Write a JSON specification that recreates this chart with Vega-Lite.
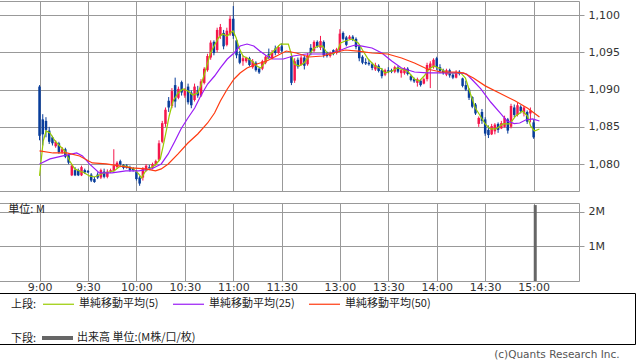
{
"$schema": "https://vega.github.io/schema/vega-lite/v6.json",
"padding": {"left": -2, "top": 0, "right": 0, "bottom": 0},
"background": "white",
"spacing": -1,
"title": {"text": "(c)Quants Research Inc.", "orient": "bottom", "anchor": "end", "font": "DejaVu Sans", "fontSize": 10.5, "fontWeight": "normal", "color": "#555555", "offset": 5, "dx": -16},
"config": {
  "view": {"stroke": "#999999", "strokeWidth": 1},
  "axis": {"labelFont": "DejaVu Sans", "labelFontSize": 11, "labelColor": "#333333", "gridColor": "#999999", "gridWidth": 1, "gridOpacity": 1, "tickColor": "#999999", "domain": false}
},
"resolve": {"scale": {"stroke": "shared", "fill": "shared"}, "legend": {"stroke": "shared", "fill": "shared"}},
"datasets": {
"candles": [
{"t":0,"o":1090.4,"h":1090.6,"l":1083.2,"c":1083.8},
{"t":2,"o":1086,"h":1086.7,"l":1082.5,"c":1084},
{"t":4,"o":1085.8,"h":1086.3,"l":1083.6,"c":1084.6},
{"t":6,"o":1084.5,"h":1085,"l":1082.7,"c":1083},
{"t":8,"o":1083.6,"h":1083.8,"l":1082.5,"c":1082.8},
{"t":10,"o":1082.4,"h":1083.2,"l":1082.2,"c":1083},
{"t":12,"o":1082.8,"h":1083,"l":1081.4,"c":1081.6},
{"t":14,"o":1081.6,"h":1082.3,"l":1081.4,"c":1082},
{"t":16,"o":1082,"h":1082.2,"l":1080.8,"c":1081},
{"t":18,"o":1081.2,"h":1081.4,"l":1080,"c":1080.2},
{"t":20,"o":1078.5,"h":1080,"l":1078.4,"c":1079.8},
{"t":22,"o":1079.2,"h":1079.6,"l":1078.4,"c":1078.5},
{"t":24,"o":1079.2,"h":1079.4,"l":1078.4,"c":1078.5},
{"t":26,"o":1078.5,"h":1079.8,"l":1078.4,"c":1079.6},
{"t":28,"o":1079.2,"h":1079.4,"l":1078.7,"c":1078.9},
{"t":30,"o":1079.1,"h":1079.2,"l":1078.8,"c":1078.9},
{"t":32,"o":1078.6,"h":1078.8,"l":1077.6,"c":1077.8},
{"t":34,"o":1078,"h":1078.3,"l":1077.5,"c":1077.6},
{"t":36,"o":1078.6,"h":1078.9,"l":1078,"c":1078.2},
{"t":38,"o":1078.2,"h":1079.4,"l":1078,"c":1079.2},
{"t":40,"o":1079,"h":1079.4,"l":1078.1,"c":1078.3},
{"t":42,"o":1078.3,"h":1079.3,"l":1078.1,"c":1079},
{"t":44,"o":1079,"h":1079.4,"l":1078.8,"c":1079.2},
{"t":46,"o":1079.1,"h":1082,"l":1079,"c":1079.8},
{"t":48,"o":1079.6,"h":1080.4,"l":1079.4,"c":1080.2},
{"t":50,"o":1080.4,"h":1080.6,"l":1079.8,"c":1080},
{"t":52,"o":1079.9,"h":1080,"l":1079.3,"c":1079.5},
{"t":54,"o":1079.8,"h":1080,"l":1079.4,"c":1079.5},
{"t":56,"o":1079.5,"h":1079.8,"l":1079,"c":1079.2},
{"t":58,"o":1079.4,"h":1079.6,"l":1079,"c":1079.2},
{"t":60,"o":1079,"h":1079.2,"l":1077.8,"c":1078},
{"t":62,"o":1078.2,"h":1078.4,"l":1077.1,"c":1077.4},
{"t":64,"o":1078.2,"h":1079.6,"l":1077.8,"c":1079.4},
{"t":66,"o":1079.2,"h":1080,"l":1079,"c":1079.8},
{"t":68,"o":1079.6,"h":1079.9,"l":1079.2,"c":1079.5},
{"t":70,"o":1079.5,"h":1080.2,"l":1079.3,"c":1080},
{"t":72,"o":1080,"h":1080.6,"l":1079.8,"c":1080.4},
{"t":74,"o":1080.6,"h":1083.2,"l":1080.4,"c":1082.8},
{"t":76,"o":1083,"h":1085.8,"l":1082.8,"c":1085.5},
{"t":78,"o":1085.4,"h":1087.6,"l":1085,"c":1087.3},
{"t":80,"o":1088.5,"h":1089,"l":1087,"c":1087.6},
{"t":82,"o":1087.8,"h":1090.2,"l":1087.5,"c":1089.8},
{"t":84,"o":1090.6,"h":1091.6,"l":1087.6,"c":1088.4},
{"t":86,"o":1088.9,"h":1090.4,"l":1088.7,"c":1090.1},
{"t":88,"o":1091,"h":1091.2,"l":1089.2,"c":1089.6},
{"t":90,"o":1089.2,"h":1090.2,"l":1088.9,"c":1090},
{"t":92,"o":1090.4,"h":1090.8,"l":1088,"c":1088.3},
{"t":94,"o":1089.6,"h":1089.9,"l":1087.5,"c":1087.9},
{"t":96,"o":1088.6,"h":1090.8,"l":1088.4,"c":1090.4},
{"t":98,"o":1089.9,"h":1090.5,"l":1088.9,"c":1089.2},
{"t":100,"o":1089.2,"h":1091.4,"l":1089,"c":1091.1},
{"t":102,"o":1090.9,"h":1093,"l":1090.7,"c":1092.8},
{"t":104,"o":1092.6,"h":1094.8,"l":1092.4,"c":1094.5},
{"t":106,"o":1094.3,"h":1096.6,"l":1094,"c":1096.3},
{"t":108,"o":1096.4,"h":1096.6,"l":1094.6,"c":1094.9},
{"t":110,"o":1095.3,"h":1098.3,"l":1095,"c":1098},
{"t":112,"o":1097.2,"h":1098.8,"l":1096.8,"c":1098.4},
{"t":114,"o":1097.6,"h":1098,"l":1095.4,"c":1095.8},
{"t":116,"o":1096,"h":1098.3,"l":1095.8,"c":1097.9},
{"t":118,"o":1097.4,"h":1099.9,"l":1097.2,"c":1099.5},
{"t":120,"o":1099.5,"h":1101.2,"l":1096.8,"c":1097.2},
{"t":122,"o":1096.6,"h":1096.8,"l":1094.2,"c":1094.6},
{"t":124,"o":1094.8,"h":1095.2,"l":1093.4,"c":1093.6},
{"t":126,"o":1093.8,"h":1094.6,"l":1093.2,"c":1094.2},
{"t":128,"o":1093.8,"h":1094.4,"l":1093.6,"c":1094.3},
{"t":130,"o":1094.2,"h":1094.4,"l":1093.1,"c":1093.3},
{"t":132,"o":1093,"h":1094.1,"l":1092.8,"c":1093.8},
{"t":134,"o":1093.6,"h":1093.8,"l":1092.4,"c":1092.6},
{"t":136,"o":1092.8,"h":1093,"l":1092.1,"c":1092.3},
{"t":138,"o":1092.8,"h":1094,"l":1092.6,"c":1093.8},
{"t":140,"o":1093.6,"h":1094.6,"l":1093.4,"c":1094.4},
{"t":142,"o":1094.8,"h":1095.5,"l":1094.1,"c":1094.3},
{"t":144,"o":1094.2,"h":1095.3,"l":1094,"c":1095},
{"t":146,"o":1095.5,"h":1095.9,"l":1094.6,"c":1094.9},
{"t":148,"o":1094.9,"h":1095.9,"l":1094.8,"c":1095.7},
{"t":150,"o":1095.8,"h":1096.2,"l":1095,"c":1095.2},
{"t":156,"o":1094.5,"h":1094.8,"l":1090.6,"c":1090.9},
{"t":158,"o":1091.2,"h":1094.2,"l":1090.9,"c":1093.8},
{"t":160,"o":1094,"h":1094.3,"l":1092.8,"c":1093.1},
{"t":162,"o":1093.3,"h":1094.6,"l":1093.2,"c":1094.3},
{"t":164,"o":1094.3,"h":1094.5,"l":1092.7,"c":1093.2},
{"t":166,"o":1093.4,"h":1094.9,"l":1093.2,"c":1094.6},
{"t":168,"o":1095.6,"h":1096.1,"l":1094.6,"c":1094.9},
{"t":170,"o":1095.2,"h":1096.6,"l":1095,"c":1096.4},
{"t":172,"o":1096.4,"h":1096.6,"l":1095.6,"c":1095.8},
{"t":174,"o":1095.6,"h":1097.2,"l":1095.3,"c":1096.5},
{"t":176,"o":1096.4,"h":1096.6,"l":1094.3,"c":1094.6},
{"t":178,"o":1095,"h":1095.1,"l":1094.3,"c":1094.5},
{"t":180,"o":1094.5,"h":1095.1,"l":1094.3,"c":1094.9},
{"t":182,"o":1095.3,"h":1095.4,"l":1094.6,"c":1094.8},
{"t":184,"o":1094.9,"h":1095.6,"l":1094.7,"c":1095.4},
{"t":186,"o":1095.3,"h":1098.1,"l":1095.1,"c":1097.5},
{"t":188,"o":1097.6,"h":1097.8,"l":1096.6,"c":1096.8},
{"t":190,"o":1097,"h":1097.2,"l":1095.8,"c":1096},
{"t":192,"o":1096.8,"h":1097.3,"l":1096.7,"c":1097.1},
{"t":194,"o":1097.1,"h":1097.3,"l":1096.5,"c":1096.7},
{"t":196,"o":1096.8,"h":1097,"l":1095.4,"c":1095.7},
{"t":198,"o":1095.8,"h":1096.1,"l":1093.8,"c":1094.2},
{"t":200,"o":1094.4,"h":1094.6,"l":1093.4,"c":1093.6},
{"t":202,"o":1093.7,"h":1094.2,"l":1093.3,"c":1093.5},
{"t":204,"o":1093.6,"h":1094,"l":1093.2,"c":1093.4},
{"t":206,"o":1093.4,"h":1093.6,"l":1092.6,"c":1092.9},
{"t":208,"o":1092.7,"h":1093.6,"l":1092.5,"c":1093.3},
{"t":210,"o":1093.2,"h":1093.4,"l":1092.3,"c":1092.5},
{"t":212,"o":1092.6,"h":1092.9,"l":1091.5,"c":1091.8},
{"t":214,"o":1092,"h":1092.8,"l":1091.8,"c":1092.6},
{"t":216,"o":1092.6,"h":1093,"l":1092.2,"c":1092.4},
{"t":218,"o":1092.6,"h":1092.8,"l":1092.2,"c":1092.4},
{"t":220,"o":1092.4,"h":1093.2,"l":1092.2,"c":1093},
{"t":222,"o":1093,"h":1093.2,"l":1092.2,"c":1092.4},
{"t":224,"o":1092.2,"h":1092.8,"l":1091.6,"c":1092.6},
{"t":226,"o":1092.2,"h":1093,"l":1092,"c":1092.8},
{"t":228,"o":1092.8,"h":1093,"l":1091.9,"c":1092.1},
{"t":230,"o":1091.8,"h":1092,"l":1091.1,"c":1091.3},
{"t":232,"o":1091.4,"h":1091.6,"l":1090.9,"c":1091.1},
{"t":234,"o":1090.9,"h":1091.6,"l":1090.4,"c":1091.4},
{"t":236,"o":1091.2,"h":1091.4,"l":1090.4,"c":1090.6},
{"t":238,"o":1090.8,"h":1091.6,"l":1090.7,"c":1091.4},
{"t":240,"o":1091.4,"h":1093.6,"l":1091.1,"c":1093.3},
{"t":242,"o":1092.9,"h":1093.8,"l":1090.2,"c":1093.5},
{"t":244,"o":1093,"h":1094.2,"l":1092.8,"c":1094},
{"t":246,"o":1094.2,"h":1094.4,"l":1092.6,"c":1093},
{"t":248,"o":1093,"h":1093.4,"l":1092.2,"c":1092.5},
{"t":250,"o":1092.6,"h":1092.8,"l":1092,"c":1092.2},
{"t":252,"o":1092,"h":1092.8,"l":1091.8,"c":1092.6},
{"t":254,"o":1092.6,"h":1092.8,"l":1091.6,"c":1091.9},
{"t":256,"o":1092,"h":1092.2,"l":1091.4,"c":1091.6},
{"t":258,"o":1091.6,"h":1092.6,"l":1091.5,"c":1092.4},
{"t":260,"o":1092.4,"h":1092.6,"l":1091.9,"c":1092.1},
{"t":262,"o":1091.5,"h":1091.6,"l":1090.3,"c":1090.5},
{"t":264,"o":1090.6,"h":1091.2,"l":1089.8,"c":1090},
{"t":266,"o":1090,"h":1090.2,"l":1088.6,"c":1088.9},
{"t":268,"o":1089,"h":1089.1,"l":1087.5,"c":1087.7},
{"t":270,"o":1088,"h":1088.2,"l":1086.6,"c":1086.8},
{"t":272,"o":1085.4,"h":1086.4,"l":1085,"c":1086.2},
{"t":274,"o":1087,"h":1087.4,"l":1085.4,"c":1085.8},
{"t":276,"o":1086,"h":1086.3,"l":1083.8,"c":1084.1},
{"t":278,"o":1084.6,"h":1085.2,"l":1083.5,"c":1083.9},
{"t":280,"o":1084,"h":1085.4,"l":1083.9,"c":1085.1},
{"t":282,"o":1084.4,"h":1085.5,"l":1084,"c":1085.3},
{"t":284,"o":1085.4,"h":1085.6,"l":1084.2,"c":1084.6},
{"t":286,"o":1084.8,"h":1085.8,"l":1084.7,"c":1085.5},
{"t":288,"o":1085,"h":1086.5,"l":1084.9,"c":1086.2},
{"t":290,"o":1086,"h":1086.2,"l":1084.1,"c":1084.5},
{"t":292,"o":1085,"h":1088.1,"l":1084.8,"c":1087.8},
{"t":294,"o":1087.6,"h":1088,"l":1086.3,"c":1086.6},
{"t":296,"o":1086.6,"h":1088.2,"l":1086.4,"c":1087.9},
{"t":298,"o":1087.7,"h":1087.9,"l":1086.8,"c":1087.1},
{"t":300,"o":1086.8,"h":1087.8,"l":1086.4,"c":1087.6},
{"t":302,"o":1087,"h":1087.2,"l":1085.4,"c":1085.7},
{"t":304,"o":1086.8,"h":1087.6,"l":1085.6,"c":1087.2},
{"t":306,"o":1085.6,"h":1086,"l":1083.4,"c":1083.6}
],
"ma": [
{"s":"5","t":0,"v":1078.42},{"s":"5","t":2.3,"v":1083.11},{"s":"5","t":4.1,"v":1084.45},{"s":"5","t":6.5,"v":1084.18},{"s":"5","t":9.6,"v":1083.11},{"s":"5","t":12.6,"v":1082.44},{"s":"5","t":15.7,"v":1081.77},{"s":"5","t":18.7,"v":1080.43},{"s":"5","t":21.8,"v":1079.36},{"s":"5","t":24.8,"v":1079.09},{"s":"5","t":27.9,"v":1078.82},{"s":"5","t":30.9,"v":1078.42},{"s":"5","t":34,"v":1078.28},{"s":"5","t":37,"v":1078.55},{"s":"5","t":40,"v":1078.82},{"s":"5","t":43.1,"v":1078.95},{"s":"5","t":46.2,"v":1079.09},{"s":"5","t":49.2,"v":1079.62},{"s":"5","t":52.3,"v":1079.76},{"s":"5","t":55.3,"v":1079.62},{"s":"5","t":58.4,"v":1079.36},{"s":"5","t":61.4,"v":1078.69},{"s":"5","t":63.2,"v":1078.15},{"s":"5","t":65.7,"v":1079.09},{"s":"5","t":68.7,"v":1079.49},{"s":"5","t":71.8,"v":1079.89},{"s":"5","t":74.8,"v":1080.7},{"s":"5","t":76.6,"v":1082.44},{"s":"5","t":78.5,"v":1084.45},{"s":"5","t":80.3,"v":1086.46},{"s":"5","t":82.7,"v":1088.47},{"s":"5","t":85.8,"v":1089.54},{"s":"5","t":88.8,"v":1090.08},{"s":"5","t":91.9,"v":1089.81},{"s":"5","t":94.9,"v":1089.28},{"s":"5","t":98,"v":1089.54},{"s":"5","t":99.8,"v":1090.48},{"s":"5","t":102.3,"v":1092.23},{"s":"5","t":104.1,"v":1093.57},{"s":"5","t":105.9,"v":1094.91},{"s":"5","t":108.4,"v":1095.98},{"s":"5","t":110.8,"v":1096.92},{"s":"5","t":113.2,"v":1097.45},{"s":"5","t":116.3,"v":1097.18},{"s":"5","t":118.1,"v":1097.59},{"s":"5","t":119.9,"v":1097.86},{"s":"5","t":121.8,"v":1096.92},{"s":"5","t":123.6,"v":1095.58},{"s":"5","t":126,"v":1094.5},{"s":"5","t":128.5,"v":1094.24},{"s":"5","t":131.5,"v":1093.83},{"s":"5","t":134.6,"v":1093.16},{"s":"5","t":137,"v":1092.9},{"s":"5","t":139.4,"v":1093.57},{"s":"5","t":141.9,"v":1094.5},{"s":"5","t":144.3,"v":1095.04},{"s":"5","t":146.8,"v":1095.58},{"s":"5","t":149.2,"v":1096.11},{"s":"5","t":154.1,"v":1096.11},{"s":"5","t":155.9,"v":1094.77},{"s":"5","t":157.7,"v":1093.43},{"s":"5","t":160.8,"v":1093.16},{"s":"5","t":163.8,"v":1093.57},{"s":"5","t":166.3,"v":1094.24},{"s":"5","t":169.3,"v":1095.44},{"s":"5","t":172.4,"v":1095.84},{"s":"5","t":175.4,"v":1095.84},{"s":"5","t":178.4,"v":1094.77},{"s":"5","t":181.5,"v":1094.77},{"s":"5","t":184.6,"v":1095.17},{"s":"5","t":186.4,"v":1096.25},{"s":"5","t":189.4,"v":1096.51},{"s":"5","t":193.7,"v":1096.78},{"s":"5","t":197.4,"v":1096.25},{"s":"5","t":200.4,"v":1095.17},{"s":"5","t":203.5,"v":1094.1},{"s":"5","t":207.7,"v":1093.16},{"s":"5","t":212,"v":1092.76},{"s":"5","t":213.8,"v":1092.23},{"s":"5","t":218.1,"v":1092.49},{"s":"5","t":221.8,"v":1092.9},{"s":"5","t":227.9,"v":1092.49},{"s":"5","t":232.2,"v":1091.42},{"s":"5","t":235.2,"v":1091.15},{"s":"5","t":238.2,"v":1091.82},{"s":"5","t":241.3,"v":1092.76},{"s":"5","t":244.3,"v":1093.16},{"s":"5","t":248.6,"v":1092.76},{"s":"5","t":252.3,"v":1092.23},{"s":"5","t":260.8,"v":1092.23},{"s":"5","t":263.8,"v":1091.55},{"s":"5","t":266.9,"v":1089.41},{"s":"5","t":269.9,"v":1087.53},{"s":"5","t":273,"v":1086.46},{"s":"5","t":276,"v":1085.39},{"s":"5","t":279.1,"v":1084.72},{"s":"5","t":282.7,"v":1084.72},{"s":"5","t":287,"v":1085.39},{"s":"5","t":291.3,"v":1085.39},{"s":"5","t":294.9,"v":1086.46},{"s":"5","t":299.2,"v":1087.13},{"s":"5","t":302.2,"v":1086.46},{"s":"5","t":304.1,"v":1085.12},{"s":"5","t":306.5,"v":1084.45},{"s":"5","t":309.6,"v":1084.72},
{"s":"25","t":0,"v":1080.03},{"s":"25","t":6.5,"v":1080.7},{"s":"25","t":14.5,"v":1081.1},{"s":"25","t":23,"v":1081.5},{"s":"25","t":26.6,"v":1081.1},{"s":"25","t":30.9,"v":1080.03},{"s":"25","t":37,"v":1078.82},{"s":"25","t":44.9,"v":1078.82},{"s":"25","t":53.5,"v":1079.09},{"s":"25","t":61.4,"v":1079.09},{"s":"25","t":69.3,"v":1079.36},{"s":"25","t":75.4,"v":1080.03},{"s":"25","t":79.7,"v":1081.37},{"s":"25","t":83.9,"v":1083.11},{"s":"25","t":87.6,"v":1084.72},{"s":"25","t":91.9,"v":1086.19},{"s":"25","t":96.1,"v":1087.53},{"s":"25","t":99.8,"v":1089.14},{"s":"25","t":104.1,"v":1090.75},{"s":"25","t":108.4,"v":1091.82},{"s":"25","t":112,"v":1092.9},{"s":"25","t":116.3,"v":1094.1},{"s":"25","t":120.5,"v":1094.91},{"s":"25","t":124.2,"v":1095.84},{"s":"25","t":128.5,"v":1096.11},{"s":"25","t":132.7,"v":1095.84},{"s":"25","t":136.4,"v":1095.17},{"s":"25","t":140.7,"v":1094.5},{"s":"25","t":144.9,"v":1094.1},{"s":"25","t":151,"v":1094.1},{"s":"25","t":157.1,"v":1094.5},{"s":"25","t":165.1,"v":1094.77},{"s":"25","t":171.2,"v":1094.77},{"s":"25","t":179,"v":1094.77},{"s":"25","t":185.2,"v":1095.17},{"s":"25","t":191.3,"v":1095.71},{"s":"25","t":195.5,"v":1095.98},{"s":"25","t":199.8,"v":1095.84},{"s":"25","t":205.9,"v":1095.58},{"s":"25","t":212,"v":1094.91},{"s":"25","t":218.1,"v":1093.83},{"s":"25","t":224.2,"v":1092.9},{"s":"25","t":232.2,"v":1092.36},{"s":"25","t":240.1,"v":1092.23},{"s":"25","t":250.4,"v":1092.23},{"s":"25","t":260.8,"v":1092.23},{"s":"25","t":264.5,"v":1092.09},{"s":"25","t":268.7,"v":1091.15},{"s":"25","t":273.3,"v":1090.1},{"s":"25","t":279.5,"v":1088.3},{"s":"25","t":285.5,"v":1086.8},{"s":"25","t":289.5,"v":1085.8},{"s":"25","t":294,"v":1085.45},{"s":"25","t":297.4,"v":1085.52},{"s":"25","t":301,"v":1085.92},{"s":"25","t":305.3,"v":1086.06},{"s":"25","t":309.6,"v":1085.79},
{"s":"50","t":0,"v":1081.77},{"s":"50","t":8.4,"v":1081.5},{"s":"50","t":16.9,"v":1081.5},{"s":"50","t":24.8,"v":1081.1},{"s":"50","t":32.7,"v":1080.16},{"s":"50","t":41.3,"v":1080.03},{"s":"50","t":49.2,"v":1079.76},{"s":"50","t":57.1,"v":1079.49},{"s":"50","t":65.7,"v":1079.36},{"s":"50","t":71.8,"v":1079.09},{"s":"50","t":75.4,"v":1079.36},{"s":"50","t":79.7,"v":1080.03},{"s":"50","t":85.8,"v":1081.37},{"s":"50","t":91.9,"v":1082.84},{"s":"50","t":98,"v":1084.05},{"s":"50","t":104.1,"v":1085.52},{"s":"50","t":108.4,"v":1086.86},{"s":"50","t":112,"v":1088.47},{"s":"50","t":116.3,"v":1090.08},{"s":"50","t":120.5,"v":1091.42},{"s":"50","t":124.2,"v":1092.23},{"s":"50","t":128.5,"v":1092.9},{"s":"50","t":134.6,"v":1093.43},{"s":"50","t":140.7,"v":1093.83},{"s":"50","t":146.8,"v":1094.5},{"s":"50","t":152.8,"v":1095.17},{"s":"50","t":159,"v":1094.91},{"s":"50","t":166.9,"v":1094.37},{"s":"50","t":175.4,"v":1094.5},{"s":"50","t":181.5,"v":1094.91},{"s":"50","t":189.4,"v":1095.31},{"s":"50","t":197.4,"v":1095.17},{"s":"50","t":205.9,"v":1094.91},{"s":"50","t":215.6,"v":1094.77},{"s":"50","t":224.2,"v":1094.24},{"s":"50","t":232.2,"v":1093.57},{"s":"50","t":240.1,"v":1092.76},{"s":"50","t":248.6,"v":1092.36},{"s":"50","t":256.6,"v":1092.36},{"s":"50","t":262.6,"v":1092.23},{"s":"50","t":268.7,"v":1091.55},{"s":"50","t":276,"v":1090.5},{"s":"50","t":286,"v":1089.4},{"s":"50","t":294.4,"v":1088.5},{"s":"50","t":302.3,"v":1087.5},{"s":"50","t":309.6,"v":1086.33}
],
"vol": [
{"t":307,"v":2.2,"k":"出来高 単位:(M株/口/枚)"}
]
},
"vconcat": [
{
  "width": 580, "height": 190,
  "layer": [
    {
      "data": {"name": "candles"},
      "mark": {"type": "rule", "strokeWidth": 1},
      "encoding": {
        "x": {"field": "t", "type": "quantitative", "scale": {"domain": [-22, 331], "nice": false, "zero": false},
              "axis": {"values": [0,30,60,90,120,150,186,216,246,276,306], "labels": false, "ticks": true, "tickSize": 11, "tickColor": "transparent", "grid": true, "domain": false, "title": null}},
        "y": {"field": "l", "type": "quantitative", "scale": {"domain": [1076.4, 1101.88], "nice": false, "zero": false},
              "axis": {"orient": "right", "values": [1080,1085,1090,1095,1100], "format": ",", "grid": true, "tickSize": 5, "labelPadding": 4, "title": null}},
        "y2": {"field": "h"},
        "color": {"condition": {"test": "datum.c >= datum.o", "value": "#f5174c"}, "value": "#083d9b"}
      }
    },
    {
      "data": {"name": "candles"},
      "mark": {"type": "bar", "width": 2.5},
      "encoding": {
        "x": {"field": "t", "type": "quantitative"},
        "y": {"field": "o", "type": "quantitative"},
        "y2": {"field": "c"},
        "color": {"condition": {"test": "datum.c >= datum.o", "value": "#f5174c"}, "value": "#083d9b"}
      }
    },
    {
      "data": {"name": "ma"},
      "mark": {"type": "line", "strokeWidth": 1.2},
      "encoding": {
        "x": {"field": "t", "type": "quantitative"},
        "y": {"field": "v", "type": "quantitative"},
        "stroke": {"field": "s", "type": "nominal",
          "scale": {"domain": ["5","25","50"], "range": ["#99cc00","#9a1cf5","#ff3a10"]},
          "legend": {"orient": "none", "legendX": 12, "legendY": 286.5, "direction": "horizontal",
            "title": "上段:", "titleOrient": "left", "titleBaseline": "top", "titleFont": "Noto Sans CJK JP", "titleFontSize": 11, "titleFontWeight": "normal", "titleColor": "#222222", "titlePadding": 5,
            "labelFont": "Noto Sans CJK JP", "labelFontSize": 11, "labelColor": "#222222", "labelExpr": "'単純移動平均(' + datum.label + ')'", "labelLimit": 200,
            "symbolType": "stroke", "symbolSize": 961, "symbolStrokeWidth": 1.2, "labelOffset": 4, "columnPadding": 11}}
      }
    }
  ]
},
{
  "width": 580, "height": 78,
  "layer": [
    {
      "data": {"name": "vol"},
      "mark": {"type": "bar", "width": 3},
      "encoding": {
        "x": {"field": "t", "type": "quantitative", "scale": {"domain": [-22, 331], "nice": false, "zero": false},
              "axis": {"values": [0,30,60,90,120,150,186,216,246,276,306], "labelExpr": "datum.value==0?'9:00':datum.value==30?'9:30':datum.value==60?'10:00':datum.value==90?'10:30':datum.value==120?'11:00':datum.value==150?'11:30':datum.value==186?'13:00':datum.value==216?'13:30':datum.value==246?'14:00':datum.value==276?'14:30':'15:00'", "labelOverlap": false, "ticks": false, "labelPadding": 0, "grid": true, "domain": false, "title": null}},
        "y": {"field": "v", "type": "quantitative", "scale": {"domain": [0, 2.26], "nice": false, "zero": true},
              "axis": {"orient": "right", "values": [1, 2], "labelExpr": "datum.value + 'M'", "grid": true, "tickSize": 5, "labelPadding": 4, "title": null}},
        "fill": {"field": "k", "type": "nominal", "scale": {"range": ["#666666"]},
          "legend": {"orient": "none", "legendX": 12, "legendY": 321.5, "direction": "horizontal",
            "title": "下段:", "titleOrient": "left", "titleBaseline": "top", "titleFont": "Noto Sans CJK JP", "titleFontSize": 11, "titleFontWeight": "normal", "titleColor": "#222222", "titlePadding": 5,
            "labelFont": "Noto Sans CJK JP", "labelFontSize": 11, "labelColor": "#222222", "labelLimit": 250,
            "symbolType": "M-1,-0.13H1V0.13H-1Z", "symbolSize": 961, "symbolStrokeWidth": 0, "labelOffset": 4}}
      }
    },
    {
      "data": {"values": [{"label": "単位: M"}]},
      "mark": {"type": "text", "align": "left", "baseline": "middle", "font": "Noto Sans CJK JP", "fontSize": 11, "color": "#222222"},
      "encoding": {
        "x": {"datum": -19.3, "type": "quantitative"},
        "y": {"datum": 2.06, "type": "quantitative"},
        "text": {"field": "label"}
      }
    }
  ]
},
{
  "width": 636, "height": 51,
  "view": {"stroke": "#000000", "strokeWidth": 1},
  "data": {"values": [{}]},
  "mark": {"type": "point", "opacity": 0},
  "encoding": {}
}
]
}
